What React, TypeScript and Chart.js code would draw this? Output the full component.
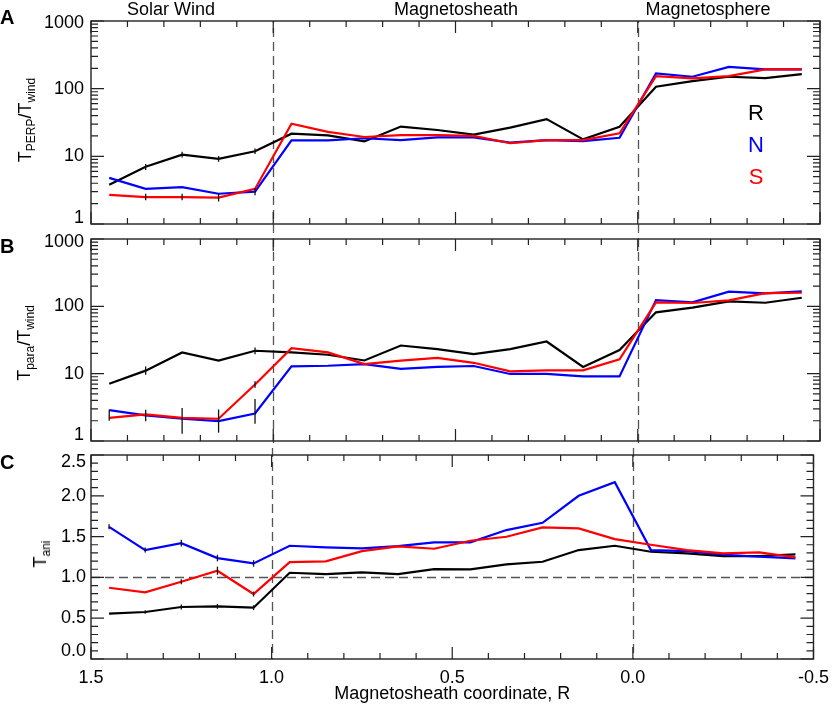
import React, { useEffect, useRef } from "react";
import { Chart, registerables } from "chart.js";

Chart.register(...registerables);

// ---------- data ----------
const xCoord = [1.45, 1.35, 1.25, 1.15, 1.05, 0.95, 0.85, 0.75, 0.65, 0.55, 0.45, 0.35, 0.25, 0.15, 0.05, -0.05, -0.15, -0.25, -0.35, -0.45];

const perpR = [3.8, 7.0, 10.6, 9.2, 11.9, 21.6, 20.4, 16.6, 27.5, 24.5, 21, 26.5, 35.5, 17.8, 27.4, 107, 129, 150, 143, 164];
const perpN = [4.8, 3.3, 3.5, 2.8, 3.0, 17.2, 17.2, 18.5, 17.4, 19.0, 19.1, 15.9, 17.4, 16.8, 18.8, 168, 150, 210, 193, 193];
const perpS = [2.7, 2.5, 2.5, 2.45, 3.3, 30.4, 23, 19.3, 20.6, 20.6, 20, 15.6, 17.4, 17.4, 21.9, 153, 142, 153, 193, 193];

const paraR = [7.1, 11.1, 20.7, 15.6, 21.9, 20.7, 19.1, 15.7, 26.2, 23.1, 19.5, 23.1, 30, 12.6, 22.4, 81.5, 95.6, 118.6, 113, 134];
const paraN = [2.87, 2.4, 2.14, 1.98, 2.56, 12.8, 13.1, 13.9, 11.8, 12.6, 13.0, 9.9, 9.9, 9.1, 9.1, 124, 114.6, 165, 156, 167];
const paraS = [2.2, 2.48, 2.2, 2.14, 6.9, 23.9, 20.7, 13.9, 15.6, 17.1, 14.5, 10.8, 11.2, 11.2, 16.3, 114.6, 112, 122.7, 157, 159];

const aniR = [0.555, 0.576, 0.637, 0.645, 0.629, 1.057, 1.041, 1.061, 1.04, 1.102, 1.098, 1.159, 1.192, 1.335, 1.388, 1.314, 1.294, 1.261, 1.261, 1.282];
const aniN = [1.62, 1.335, 1.42, 1.237, 1.171, 1.388, 1.367, 1.355, 1.384, 1.429, 1.429, 1.58, 1.669, 2.0, 2.167, 1.335, 1.322, 1.278, 1.253, 1.233];
const aniS = [0.873, 0.816, 0.947, 1.082, 0.796, 1.188, 1.196, 1.322, 1.38, 1.351, 1.449, 1.498, 1.612, 1.6, 1.469, 1.4, 1.335, 1.294, 1.306, 1.245];

// error bars: [point index, low, high]
const errPerpR = [[1, 6.3, 7.7], [2, 9.6, 11.7], [3, 8.3, 10.1], [4, 10.8, 13.1]];
const errPerpN = [[4, 2.65, 3.4]];
const errPerpS = [[1, 2.25, 2.8], [2, 2.25, 2.8], [3, 2.15, 2.8]];

const errParaR = [[1, 9.6, 12.8], [4, 19.5, 24.5]];
const errParaN = [[0, 2.0, 2.9], [1, 1.97, 2.9], [2, 1.28, 3.1], [3, 1.33, 2.94], [4, 1.8, 4.2]];
const errParaS = [[4, 6.2, 7.7]];

const errAniR = [[1, 0.556, 0.596], [2, 0.607, 0.667], [3, 0.615, 0.675], [4, 0.599, 0.659]];
const errAniN = [[0, 1.59, 1.65], [1, 1.305, 1.365], [2, 1.38, 1.46], [3, 1.197, 1.277], [4, 1.131, 1.211]];
const errAniS = [[2, 0.917, 0.977], [3, 1.032, 1.132], [4, 0.766, 0.826]];

// ticks
const xMajorTicks = [1.5, 1.0, 0.5, 0.0, -0.5];
const logMajorTicks = [1, 10, 100, 1000];
const aniMajorTicks = [0.0, 0.5, 1.0, 1.5, 2.0, 2.5];
const boundaryLines = [1.0, 0.0];
const aniReference = [1.0];

const FONT = "'Liberation Sans', Arial, Helvetica, sans-serif";
const W = 837;
const H = 708;

function xMinor(): number[] {
  const out: number[] = [];
  for (let k = -5; k <= 15; k++) {
    if (k % 5 !== 0) out.push(k / 10);
  }
  return out;
}
function logMinor(): number[] {
  const out: number[] = [];
  for (const d of [1, 10, 100]) for (let m = 2; m <= 9; m++) out.push(d * m);
  return out;
}
function linMinor(): number[] {
  const out: number[] = [];
  for (let k = 0; k <= 25; k++) if (k % 5 !== 0) out.push(k / 10);
  return out;
}

const decorPlugin = {
  id: "decor",
  beforeDraw(chart: any, _a: any, opts: any) {
    // nudge the end labels inward, as the original plotting package does
    try {
      const ys = chart.scales.y;
      const items = ys.getLabelItems(chart.chartArea);
      items.forEach((it: any, idx: number) => {
        const t = ys.ticks[idx];
        if (!t) return;
        if (t.value === ys.min) it.options.translation[1] -= opts.lowShift;
        if (t.value === ys.max) it.options.translation[1] += opts.highShift;
      });
    } catch (e) {
      /* ignore */
    }
  },
  beforeDatasetsDraw(chart: any, _a: any, opts: any) {
    const { ctx, chartArea: a, scales } = chart;
    const xs = scales.x;
    const ys = scales.y;
    ctx.save();
    ctx.strokeStyle = "#555";
    ctx.lineWidth = 1.3;
    ctx.setLineDash([9, 5]);
    const y0 = a.top - opts.extTop;
    const y1 = a.bottom + opts.extBottom;
    for (const v of boundaryLines) {
      const px = Math.round(xs.getPixelForValue(v)) + 0.5;
      ctx.lineDashOffset = y0;
      ctx.beginPath();
      ctx.moveTo(px, y0);
      ctx.lineTo(px, y1);
      ctx.stroke();
    }
    for (const v of opts.hLines) {
      const py = Math.round(ys.getPixelForValue(v)) + 0.5;
      ctx.lineDashOffset = 0;
      ctx.beginPath();
      ctx.moveTo(a.left, py);
      ctx.lineTo(a.right, py);
      ctx.stroke();
    }
    ctx.restore();
  },
  afterDatasetsDraw(chart: any, _a: any, opts: any) {
    const { ctx, scales } = chart;
    const xs = scales.x;
    const ys = scales.y;
    ctx.save();
    ctx.strokeStyle = "#111";
    ctx.lineWidth = 1.3;
    for (const list of opts.errors) {
      for (const [i, lo, hi] of list) {
        const px = xs.getPixelForValue(xCoord[i]);
        ctx.beginPath();
        ctx.moveTo(px, ys.getPixelForValue(lo));
        ctx.lineTo(px, ys.getPixelForValue(hi));
        ctx.stroke();
      }
    }
    ctx.restore();
  },
  afterDraw(chart: any, _a: any, opts: any) {
    const { ctx, chartArea: a, scales } = chart;
    const xs = scales.x;
    const ys = scales.y;
    ctx.save();
    ctx.strokeStyle = "#222";
    ctx.lineWidth = 1.4;
    ctx.strokeRect(a.left, a.top, a.right - a.left, a.bottom - a.top);
    const tick = (vals: number[], len: number, horiz: boolean) => {
      for (const v of vals) {
        if (horiz) {
          const px = xs.getPixelForValue(v);
          ctx.beginPath();
          ctx.moveTo(px, a.bottom);
          ctx.lineTo(px, a.bottom - len);
          ctx.moveTo(px, a.top);
          ctx.lineTo(px, a.top + len);
          ctx.stroke();
        } else {
          const py = ys.getPixelForValue(v);
          ctx.beginPath();
          ctx.moveTo(a.left, py);
          ctx.lineTo(a.left + len, py);
          ctx.moveTo(a.right, py);
          ctx.lineTo(a.right - len, py);
          ctx.stroke();
        }
      }
    };
    ctx.lineWidth = 1.2;
    tick(xMajorTicks, 12, true);
    tick(xMinor(), 6, true);
    tick(opts.yMajor, 13, false);
    tick(opts.yMinor, 7, false);
    ctx.restore();
  },
};

type Panel = {
  r: number[];
  n: number[];
  s: number[];
  log: boolean;
  top: number;
  bottom: number;
  showX: boolean;
  extTop: number;
  extBottom: number;
  errors: number[][][];
  labelPad: number;
  lowShift: number;
  highShift: number;
};

function makeConfig(p: Panel): any {
  const pts = (arr: number[]) => xCoord.map((x, i) => ({ x, y: arr[i] }));
  const line = (label: string, arr: number[], color: string) => ({
    label,
    data: pts(arr),
    borderColor: color,
    backgroundColor: color,
    borderWidth: 2.2,
    pointRadius: 0,
    tension: 0,
    fill: false,
  });
  const font = { family: FONT, size: 18 };
  return {
    type: "line",
    data: {
      datasets: [line("S", p.s, "#ff0000"), line("N", p.n, "#0000ff"), line("R", p.r, "#000000")],
    },
    options: {
      responsive: false,
      animation: false,
      events: [],
      layout: {
        padding: {
          left: 0,
          right: W - 820,
          top: p.top,
          bottom: p.showX ? 0 : H - p.bottom,
        },
      },
      plugins: {
        legend: { display: false },
        tooltip: { enabled: false },
        decor: {
          extTop: p.extTop,
          extBottom: p.extBottom,
          hLines: p.log ? [] : aniReference,
          errors: p.errors,
          yMajor: p.log ? logMajorTicks : aniMajorTicks,
          yMinor: p.log ? logMinor() : linMinor(),
          lowShift: p.lowShift,
          highShift: p.highShift,
        },
      },
      scales: {
        x: {
          type: "linear",
          min: -0.5,
          max: 1.5,
          reverse: true,
          display: p.showX,
          grid: { display: false, drawTicks: false },
          border: { display: false },
          afterBuildTicks: (s: any) => {
            s.ticks = xMajorTicks.map((v) => ({ value: v }));
          },
          afterFit: (s: any) => {
            s.height = p.showX ? H - p.bottom : 0;
          },
          ticks: {
            font,
            color: "#000",
            padding: 8,
            maxRotation: 0,
            autoSkip: false,
            callback: (v: any) => Number(v).toFixed(1),
          },
          title: {
            display: p.showX,
            text: "Magnetosheath coordinate, R",
            font,
            color: "#000",
            padding: { top: 0, bottom: 3 },
          },
        },
        y: {
          type: p.log ? "logarithmic" : "linear",
          min: p.log ? 1 : 0,
          max: p.log ? 1000 : 2.5,
          grid: { display: false, drawTicks: false },
          border: { display: false },
          afterBuildTicks: (s: any) => {
            s.ticks = (p.log ? logMajorTicks : aniMajorTicks).map((v) => ({ value: v }));
          },
          afterFit: (s: any) => {
            s.width = 91;
          },
          ticks: {
            font,
            color: "#000",
            padding: p.labelPad,
            autoSkip: false,
            callback: (v: any) => (p.log ? String(Number(v)) : Number(v).toFixed(1)),
          },
        },
      },
    },
    plugins: [decorPlugin],
  };
}

const panels: Panel[] = [
  { r: perpR, n: perpN, s: perpS, log: true, top: 21, bottom: 224, showX: false, extTop: 0, extBottom: 7.5, errors: [errPerpR, errPerpN, errPerpS], labelPad: 7, lowShift: 6, highShift: 2 },
  { r: paraR, n: paraN, s: paraS, log: true, top: 239, bottom: 441, showX: false, extTop: 7.5, extBottom: 7, errors: [errParaR, errParaN, errParaS], labelPad: 7, lowShift: 6, highShift: 3 },
  { r: aniR, n: aniN, s: aniS, log: false, top: 455, bottom: 659, showX: true, extTop: 7, extBottom: 0, errors: [errAniR, errAniN, errAniS], labelPad: 5, lowShift: 8, highShift: 7 },
];

const abs = (extra: React.CSSProperties): React.CSSProperties => ({ position: "absolute", whiteSpace: "nowrap", ...extra });
const sub: React.CSSProperties = { fontSize: 12, verticalAlign: "-4px", lineHeight: 0 };

export default function App() {
  const r0 = useRef<HTMLCanvasElement>(null);
  const r1 = useRef<HTMLCanvasElement>(null);
  const r2 = useRef<HTMLCanvasElement>(null);

  useEffect(() => {
    const refs = [r0, r1, r2];
    const charts = refs.map((r, i) => new Chart(r.current as HTMLCanvasElement, makeConfig(panels[i])));
    return () => charts.forEach((c) => c.destroy());
  }, []);

  const canvasStyle: React.CSSProperties = { position: "absolute", left: 0, top: 0, width: W, height: H };
  const yTitle = (cx: number, cy: number): React.CSSProperties =>
    abs({ left: cx, top: cy, fontSize: 18, lineHeight: "18px", transform: "translate(-50%,-50%) rotate(-90deg)" });
  const letter = (top: number): React.CSSProperties => abs({ left: 0, top, fontSize: 20, lineHeight: "20px", fontWeight: "bold" });

  return (
    <div style={{ position: "relative", width: W, height: H, overflow: "hidden", background: "#fff", fontFamily: FONT, color: "#000" }}>
      <style>{"html,body{margin:0;padding:0;overflow:hidden;background:#fff}"}</style>
      <canvas ref={r0} width={W} height={H} style={canvasStyle} />
      <canvas ref={r1} width={W} height={H} style={canvasStyle} />
      <canvas ref={r2} width={W} height={H} style={canvasStyle} />

      <div style={letter(7)}>A</div>
      <div style={letter(236)}>B</div>
      <div style={letter(452)}>C</div>

      <div style={abs({ left: 171, top: 0, fontSize: 18, lineHeight: "18px", transform: "translateX(-50%)" })}>Solar Wind</div>
      <div style={abs({ left: 456, top: 0, fontSize: 18, lineHeight: "18px", transform: "translateX(-50%)" })}>Magnetosheath</div>
      <div style={abs({ left: 708, top: 0, fontSize: 18, lineHeight: "18px", transform: "translateX(-50%)" })}>Magnetosphere</div>

      <div style={yTitle(25, 120)}>
        T<span style={sub}>PERP</span>/T<span style={sub}>wind</span>
      </div>
      <div style={yTitle(24, 343)}>
        T<span style={sub}>para</span>/T<span style={sub}>wind</span>
      </div>
      <div style={yTitle(40, 554)}>
        T<span style={sub}>ani</span>
      </div>

      <div style={abs({ left: 736, width: 40, textAlign: "center", top: 102, fontSize: 22, lineHeight: "22px", color: "#000" })}>R</div>
      <div style={abs({ left: 736, width: 40, textAlign: "center", top: 134, fontSize: 22, lineHeight: "22px", color: "#0000ff" })}>N</div>
      <div style={abs({ left: 736, width: 40, textAlign: "center", top: 166, fontSize: 22, lineHeight: "22px", color: "#ff0000" })}>S</div>
    </div>
  );
}
